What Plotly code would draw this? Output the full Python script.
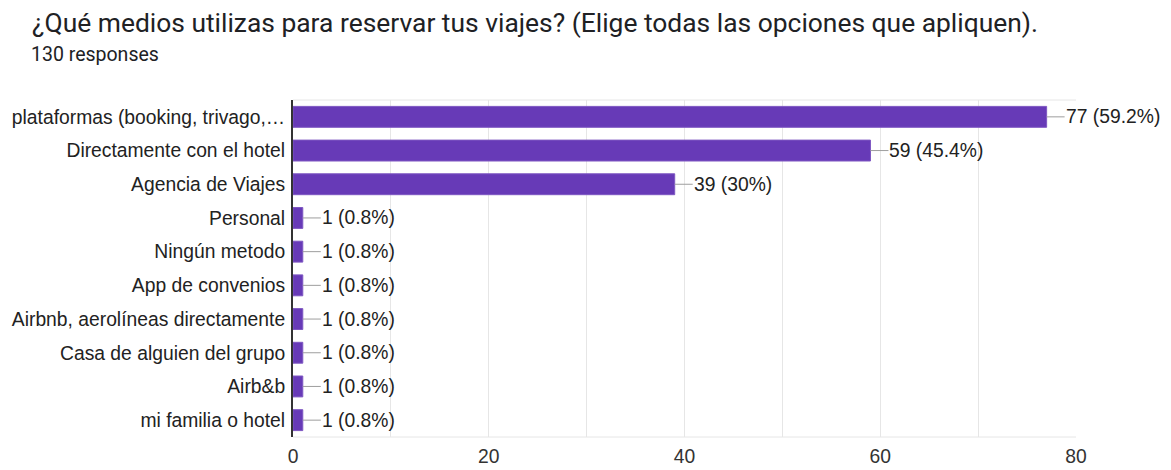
import plotly.graph_objects as go

categories = [
    "plataformas (booking, trivago,…",
    "Directamente con el hotel",
    "Agencia de Viajes",
    "Personal",
    "Ningún metodo",
    "App de convenios",
    "Airbnb, aerolíneas directamente",
    "Casa de alguien del grupo",
    "Airb&b",
    "mi familia o hotel",
]
counts = [77, 59, 39, 1, 1, 1, 1, 1, 1, 1]
percents = ["59.2%", "45.4%", "30%", "0.8%", "0.8%", "0.8%", "0.8%", "0.8%", "0.8%", "0.8%"]
x_ticks = [0, 20, 40, 60, 80]

FS = 19.3
# figure is shifted 8px by the page's body margin; size chosen so it fits the window
FIG_W, FIG_H = 1163, 462
L, R, T, B = 285, 95, 92, 33
W = FIG_W - L - R
H = FIG_H - T - B


def px_x(px):
    return (px - L) / W


def px_y(py):
    return 1 + (T - py) / H


fig = go.Figure()
fig.add_trace(go.Bar(
    x=counts, y=categories, orientation="h",
    marker=dict(color="#673AB7", line=dict(color="#7E57C2", width=1)),
    hoverinfo="skip",
))

for c, cat, p in zip(counts, categories, percents):
    fig.add_annotation(
        x=c, y=cat, xref="x", yref="y",
        text=f"{c} ({p})", showarrow=True, arrowhead=0, arrowwidth=1,
        arrowcolor="#9e9e9e", ax=18, ay=0, xanchor="left", borderpad=0,
        font=dict(family="Liberation Sans, Arial", size=FS, color="#222222"),
    )

fig.add_annotation(
    text="¿Qué medios utilizas para reservar tus viajes? (Elige todas las opciones que apliquen).",
    xref="paper", yref="paper", x=px_x(22), y=px_y(15), xanchor="left", yanchor="middle",
    showarrow=False, font=dict(family="Roboto", size=26.4, color="#202124"),
)
fig.add_annotation(
    text="130 responses",
    xref="paper", yref="paper", x=px_x(21), y=px_y(46.5), xanchor="left", yanchor="middle",
    showarrow=False, font=dict(family="Roboto", size=19.5, color="#202124"),
)

fig.update_layout(
    width=FIG_W, height=FIG_H,
    margin=dict(l=L, r=R, t=T, b=B, pad=0),
    paper_bgcolor="white", plot_bgcolor="white",
    bargap=0.38, showlegend=False,
    font=dict(family="Liberation Sans, Arial", size=FS, color="#222222"),
)
fig.update_xaxes(
    range=[0, 80], tickvals=list(range(0, 81, 10)),
    ticktext=[str(v) if v in x_ticks else "" for v in range(0, 81, 10)],
    showgrid=True, gridcolor="#e6e6e6", gridwidth=1, zeroline=False,
    showline=False, ticks="", tickfont=dict(size=FS, color="#333333"),
    ticklabelstandoff=6, automargin=False,
)
fig.update_yaxes(
    autorange="reversed", showgrid=False, zeroline=False,
    showline=True, linecolor="#333333", linewidth=2, ticks="",
    ticklabelstandoff=2, tickfont=dict(size=FS, color="#222222"),
    automargin=False,
)
fig.add_shape(type="line", xref="paper", yref="paper", x0=0, x1=1, y0=1, y1=1,
              line=dict(color="#e6e6e6", width=1))
fig.add_shape(type="line", xref="paper", yref="paper", x0=0, x1=1, y0=0, y1=0,
              line=dict(color="#e6e6e6", width=1))

fig.write_html("out.html")
